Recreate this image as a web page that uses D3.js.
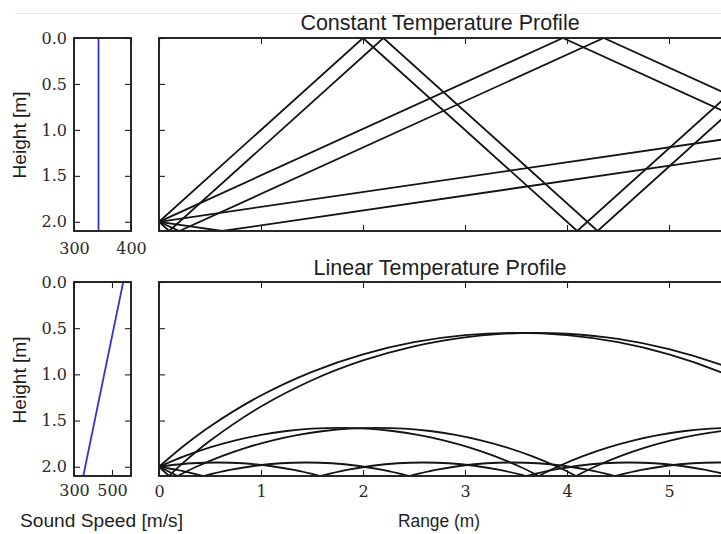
<!DOCTYPE html>
<html>
<head>
<meta charset="utf-8">
<script src="https://cdn.jsdelivr.net/npm/d3@7"></script>
<style>
  html, body { margin: 0; padding: 0; background: #fff; }
  svg { display: block; }
</style>
</head>
<body>
<svg id="chart" width="721" height="534"></svg>
<script>
// ---------------- DATA ----------------
const rangeTicks = [0, 1, 2, 3, 4, 5];
const heightTicks = [0.0, 0.5, 1.0, 1.5, 2.0];
const constSpeedTicks = [300, 400];
const linSpeedTicks = [300, 500];
const heightTickLabels = ["0.0", "0.5", "1.0", "1.5", "2.0"];

// sound speed profiles: [speed m/s, height m]
const constSpeedProfile = [[343, 0.0], [343, 2.1]];
const linSpeedProfile = [[559, 0.0], [349, 2.1]];

// constant profile rays: vertices [range m, height m] (straight segments)
const constRayUp45 = [[0, 2.0], [2.0, 0.0], [4.1, 2.1], [6.2, 0.0]];
const constRayDown45 = [[0, 2.0], [0.1, 2.1], [2.2, 0.0], [4.3, 2.1], [6.4, 0.0]];
const constRayUp27 = [[0, 2.0], [3.96, 0.0], [8.12, 2.1]];
const constRayDown27 = [[0, 2.0], [0.2, 2.1], [4.36, 0.0], [8.52, 2.1]];
const constRayUp9 = [[0, 2.0], [6.5, 0.947]];
const constRayDown9 = [[0, 2.0], [0.62, 2.1], [6.5, 1.147]];

// linear profile rays: list of arcs (between ground bounces), points [range m, height m]
const linRayUp45 = [
  [[0, 2.0], [0.25, 1.767], [0.5, 1.563], [1.0, 1.228], [1.5, 0.972], [2.0, 0.783], [2.5, 0.652],
   [3.0, 0.576], [3.5, 0.55], [4.0, 0.576], [4.5, 0.652], [5.0, 0.783], [5.5, 0.972], [6.0, 1.228]]
];
const linRayDown45 = [
  [[0, 2.0], [0.097, 2.1]],
  [[0.097, 2.1], [0.25, 1.945], [0.5, 1.719], [1.0, 1.348], [1.5, 1.063], [2.0, 0.849], [2.5, 0.696],
   [3.0, 0.599], [3.35, 0.562], [3.694, 0.55], [4.0, 0.56], [4.5, 0.616], [5.0, 0.726], [5.5, 0.892], [6.0, 1.12]]
];
const linRayUp27 = [
  [[0, 2.0], [0.25, 1.885], [0.5, 1.79], [0.75, 1.714], [1.0, 1.655], [1.25, 1.613], [1.5, 1.588],
   [1.77, 1.579], [2.04, 1.588], [2.29, 1.613], [2.54, 1.655], [2.79, 1.714], [3.04, 1.79],
   [3.29, 1.885], [3.54, 2.0], [3.723, 2.1]],
  [[3.723, 2.1], [3.906, 2.0], [4.156, 1.885], [4.406, 1.79], [4.656, 1.714], [4.906, 1.655],
   [5.156, 1.613], [5.406, 1.588], [5.676, 1.579], [5.946, 1.588]]
];
const linRayDown27 = [
  [[0, 2.0], [0.09, 2.048], [0.183, 2.1]],
  [[0.183, 2.1], [0.366, 2.0], [0.616, 1.885], [0.866, 1.79], [1.116, 1.714], [1.366, 1.655],
   [1.616, 1.613], [1.866, 1.588], [2.136, 1.579], [2.406, 1.588], [2.656, 1.613], [2.906, 1.655],
   [3.156, 1.714], [3.406, 1.79], [3.656, 1.885], [3.906, 2.0], [4.089, 2.1]],
  [[4.089, 2.1], [4.272, 2.0], [4.522, 1.885], [4.772, 1.79], [5.022, 1.714], [5.272, 1.655],
   [5.522, 1.613], [5.772, 1.588], [6.042, 1.579]]
];
const linRayUp9 = [
  [[0, 2.0], [0.074, 1.989], [0.324, 1.962], [0.574, 1.954], [0.824, 1.962], [1.074, 1.989], [1.324, 2.034], [1.583, 2.1]],
  [[1.583, 2.1], [1.842, 2.034], [2.092, 1.989], [2.342, 1.962], [2.592, 1.954], [2.842, 1.962], [3.092, 1.989], [3.342, 2.034], [3.601, 2.1]],
  [[3.601, 2.1], [3.86, 2.034], [4.11, 1.989], [4.36, 1.962], [4.61, 1.954], [4.86, 1.962], [5.11, 1.989], [5.36, 2.034], [5.619, 2.1]],
  [[5.619, 2.1], [5.878, 2.034], [6.128, 1.989]]
];
const linRayDown9 = [
  [[0, 2.0], [0.176, 2.034], [0.435, 2.1]],
  [[0.435, 2.1], [0.694, 2.034], [0.944, 1.989], [1.194, 1.962], [1.444, 1.954], [1.694, 1.962], [1.944, 1.989], [2.194, 2.034], [2.453, 2.1]],
  [[2.453, 2.1], [2.712, 2.034], [2.962, 1.989], [3.212, 1.962], [3.462, 1.954], [3.712, 1.962], [3.962, 1.989], [4.212, 2.034], [4.471, 2.1]],
  [[4.471, 2.1], [4.73, 2.034], [4.98, 1.989], [5.23, 1.962], [5.48, 1.954], [5.73, 1.962], [5.98, 1.989]]
];

const constRays = [constRayUp45, constRayDown45, constRayUp27, constRayDown27, constRayUp9, constRayDown9];
const linRays = [linRayUp45, linRayDown45, linRayUp27, linRayDown27, linRayUp9, linRayDown9];

// ---------------- LAYOUT ----------------
const svg = d3.select("#chart");
svg.append("rect").attr("width", 721).attr("height", 534).attr("fill", "#fff");
svg.append("line").attr("x1", 15).attr("x2", 721).attr("y1", 13.5).attr("y2", 13.5)
  .attr("stroke", "#e6e6e6").attr("stroke-width", 1);

const INK = "#1e1e1e";
const sX0 = 74, sX1 = 131;
const mX0 = 159, mUnit = 102, mMax = 5.6;

const panels = [
  { y0: 38, y1: 231, title: "Constant Temperature Profile", titleY: 29.5,
    sDomain: [300, 400], sTicks: constSpeedTicks, profile: constSpeedProfile, sPad: 12,
    rays: constRays, curved: false, showRange: false, hLabelY: 135 },
  { y0: 282, y1: 476, title: "Linear Temperature Profile", titleY: 275,
    sDomain: [300, 600], sTicks: linSpeedTicks, profile: linSpeedProfile, sPad: 9,
    rays: linRays, curved: true, showRange: true, hLabelY: 380 }
];

const xMain = d3.scaleLinear().domain([0, mMax]).range([mX0, mX0 + mMax * mUnit]);

function styleAxis(g) {
  g.select(".domain").remove();
  g.selectAll(".tick line").attr("stroke", INK).attr("stroke-width", 1.1);
  g.selectAll(".tick text").attr("fill", "#2a2a2a")
    .attr("font-family", "'DejaVu Serif', 'Liberation Serif', serif").attr("font-size", 16);
}

panels.forEach((p, i) => {
  const y = d3.scaleLinear().domain([0, 2.1]).range([p.y0, p.y1]);
  const xs = d3.scaleLinear().domain(p.sDomain).range([sX0, sX1]);

  // ---- small speed panel ----
  const clipS = "clipS" + i;
  svg.append("clipPath").attr("id", clipS).append("rect")
    .attr("x", sX0).attr("y", p.y0).attr("width", sX1 - sX0).attr("height", p.y1 - p.y0);

  svg.append("path").datum(p.profile)
    .attr("clip-path", `url(#${clipS})`)
    .attr("fill", "none").attr("stroke", "#3434d6").attr("stroke-width", 1.8)
    .attr("d", d3.line().x(d => xs(d[0])).y(d => y(d[1])));

  svg.append("g").attr("transform", `translate(${sX0},0)`)
    .call(d3.axisLeft(y).tickValues(heightTicks).tickFormat((d, k) => heightTickLabels[k])
      .tickSizeInner(-6).tickSizeOuter(0).tickPadding(7))
    .call(styleAxis);
  svg.append("g").attr("transform", `translate(${sX1},0)`)
    .call(d3.axisRight(y).tickValues(heightTicks).tickFormat("").tickSizeInner(-6).tickSizeOuter(0))
    .call(styleAxis);
  svg.append("g").attr("transform", `translate(0,${p.y1})`)
    .call(d3.axisBottom(xs).tickValues(p.sTicks).tickFormat(d3.format("d"))
      .tickSizeInner(-6).tickSizeOuter(0).tickPadding(p.sPad))
    .call(styleAxis);
  svg.append("g").attr("transform", `translate(0,${p.y0})`)
    .call(d3.axisTop(xs).tickValues(p.sTicks).tickFormat("").tickSizeInner(-6).tickSizeOuter(0))
    .call(styleAxis);

  svg.append("rect").attr("x", sX0).attr("y", p.y0).attr("width", sX1 - sX0).attr("height", p.y1 - p.y0)
    .attr("fill", "none").attr("stroke", INK).attr("stroke-width", 1.9);

  svg.append("text").attr("transform", `translate(25.5,${p.hLabelY}) rotate(-90)`)
    .attr("text-anchor", "middle").attr("font-family", "'Liberation Sans', Arial, sans-serif")
    .attr("font-size", 17.5).attr("fill", INK)
    .attr("textLength", 87).attr("lengthAdjust", "spacingAndGlyphs")
    .text("Height [m]");

  // ---- main ray panel ----
  const clipM = "clipM" + i;
  svg.append("clipPath").attr("id", clipM).append("rect")
    .attr("x", mX0).attr("y", p.y0).attr("width", mMax * mUnit).attr("height", p.y1 - p.y0);

  const rayG = svg.append("g").attr("clip-path", `url(#${clipM})`);
  if (!p.curved) {
    const line = d3.line().x(d => xMain(d[0])).y(d => y(d[1]));
    p.rays.forEach(r => {
      rayG.append("path").datum(r).attr("fill", "none").attr("stroke", "#141414")
        .attr("stroke-width", 1.8).attr("stroke-linejoin", "round").attr("d", line);
    });
  } else {
    const line = d3.line().x(d => xMain(d[0])).y(d => y(d[1])).curve(d3.curveCatmullRom.alpha(0.5));
    p.rays.forEach(r => {
      r.forEach(arc => {
        rayG.append("path").datum(arc).attr("fill", "none").attr("stroke", "#141414")
          .attr("stroke-width", 1.8).attr("d", line);
      });
    });
  }

  svg.append("g").attr("transform", `translate(0,${p.y1})`)
    .call(d3.axisBottom(xMain).tickValues(rangeTicks)
      .tickFormat(p.showRange ? d3.format("d") : "")
      .tickSizeInner(-6).tickSizeOuter(0).tickPadding(10))
    .call(styleAxis);
  svg.append("g").attr("transform", `translate(0,${p.y0})`)
    .call(d3.axisTop(xMain).tickValues(rangeTicks).tickFormat("").tickSizeInner(-6).tickSizeOuter(0))
    .call(styleAxis);
  svg.append("g").attr("transform", `translate(${mX0},0)`)
    .call(d3.axisLeft(y).tickValues(heightTicks).tickFormat("").tickSizeInner(-6).tickSizeOuter(0))
    .call(styleAxis);

  svg.append("rect").attr("x", mX0).attr("y", p.y0).attr("width", mMax * mUnit).attr("height", p.y1 - p.y0)
    .attr("fill", "none").attr("stroke", INK).attr("stroke-width", 1.9);

  svg.append("text").attr("x", 440).attr("y", p.titleY)
    .attr("text-anchor", "middle").attr("font-family", "'Liberation Sans', Arial, sans-serif")
    .attr("font-size", 21.5).attr("fill", INK)
    .text(p.title);
});

svg.append("text").attr("x", 101.5).attr("y", 527)
  .attr("text-anchor", "middle").attr("font-family", "'Liberation Sans', Arial, sans-serif")
  .attr("font-size", 17.5).attr("fill", INK)
  .attr("textLength", 163).attr("lengthAdjust", "spacingAndGlyphs")
  .text("Sound Speed [m/s]");
svg.append("text").attr("x", 439).attr("y", 527)
  .attr("text-anchor", "middle").attr("font-family", "'Liberation Sans', Arial, sans-serif")
  .attr("font-size", 17.5).attr("fill", INK)
  .attr("textLength", 82).attr("lengthAdjust", "spacingAndGlyphs")
  .text("Range (m)");
</script>
</body>
</html>
